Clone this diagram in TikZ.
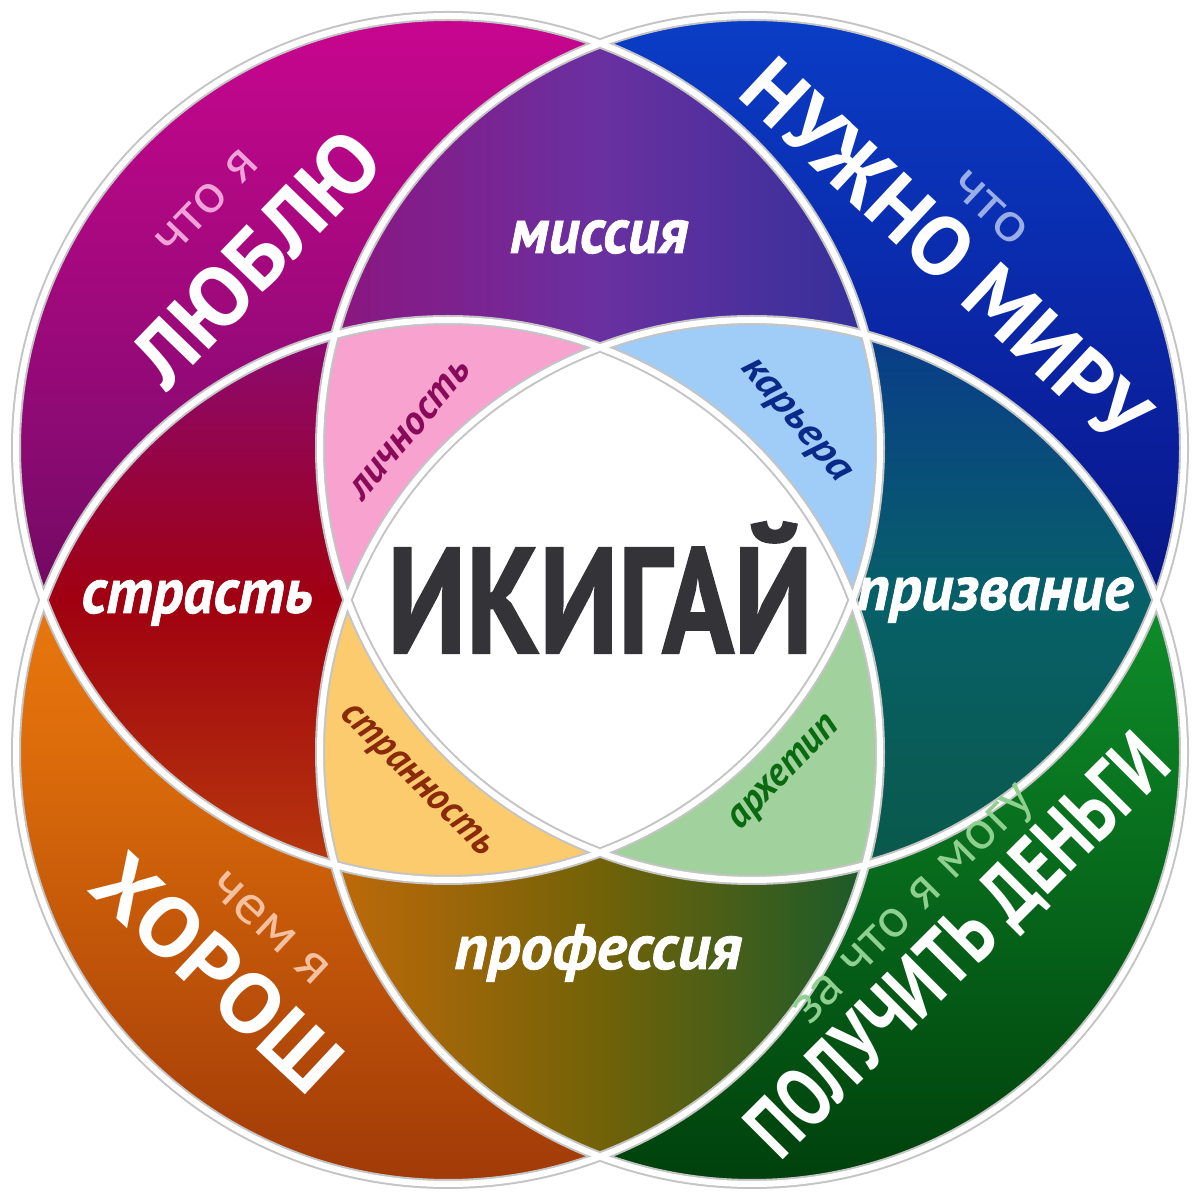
\documentclass[tikz,border=0pt]{standalone}
\usepackage{fontspec}
\setmainfont{PT Sans}
\usepackage{graphicx}
\definecolor{tlA}{HTML}{C8068F}
\definecolor{tlB}{HTML}{8A0A72}
\definecolor{tlC}{HTML}{440840}
\definecolor{trA}{HTML}{0A3DC6}
\definecolor{trB}{HTML}{0A1E9A}
\definecolor{trC}{HTML}{050A60}
\definecolor{blA}{HTML}{FF8C18}
\definecolor{blB}{HTML}{DC6C0A}
\definecolor{blC}{HTML}{A03A08}
\definecolor{brA}{HTML}{18B038}
\definecolor{brB}{HTML}{0A7A22}
\definecolor{brC}{HTML}{00400C}
\definecolor{miA}{HTML}{8E147E}
\definecolor{miB}{HTML}{6A30A0}
\definecolor{miC}{HTML}{30309A}
\definecolor{stA}{HTML}{8A0A7A}
\definecolor{stB}{HTML}{A00010}
\definecolor{stC}{HTML}{B83C0C}
\definecolor{pzA}{HTML}{0A3A8C}
\definecolor{pzB}{HTML}{076068}
\definecolor{pzC}{HTML}{0A5848}
\definecolor{prA}{HTML}{C46A0A}
\definecolor{prB}{HTML}{726208}
\definecolor{prC}{HTML}{145A2C}
\definecolor{liC}{HTML}{F7A2CF}
\definecolor{kaC}{HTML}{A0CDF8}
\definecolor{snC}{HTML}{FCCB6E}
\definecolor{arC}{HTML}{A1D29E}
\definecolor{liT}{HTML}{8A0A5A}
\definecolor{kaT}{HTML}{0A2A8A}
\definecolor{snT}{HTML}{8A2A08}
\definecolor{arT}{HTML}{0A6A10}
\definecolor{ikT}{HTML}{333338}
\definecolor{edge}{HTML}{C4C4C4}
\definecolor{tlS}{HTML}{F0A3D8}
\definecolor{trS}{HTML}{9AAEE6}
\definecolor{blS}{HTML}{F5C0A0}
\definecolor{brS}{HTML}{8FCF8F}
\begin{document}
\begin{tikzpicture}[x=1pt,y=1pt,
  biglbl/.style={font=\fontsize{84}{84}\selectfont\bfseries, text=white, inner sep=0pt},
  smalllbl/.style={font=\fontsize{54}{54}\selectfont, inner sep=0pt},
  pairlbl/.style={font=\fontsize{64}{64}\selectfont\bfseries\itshape\addfontfeature{FakeBold=1.2}, text=white, inner sep=0pt, anchor=base},
  triplbl/.style={font=\fontsize{40}{40}\selectfont\bfseries\itshape, inner sep=0pt},
  ring/.style={line width=#1}]
\useasboundingbox (0,0) rectangle (1200,1200);
\fill[white] (0,0) rectangle (1200,1200);
\coordinate (TL) at (448,752);
\coordinate (TR) at (752,752);
\coordinate (BL) at (448,448);
\coordinate (BR) at (752,448);
\def\R{432pt}
% single circles
\shade[top color=tlA, bottom color=tlC, middle color=tlB] (TL) circle[radius=\R];
\shade[top color=trA, bottom color=trC, middle color=trB] (TR) circle[radius=\R];
\shade[top color=blA, bottom color=blC, middle color=blB] (BL) circle[radius=\R];
\shade[top color=brA, bottom color=brC, middle color=brB] (BR) circle[radius=\R];
% pairs
\begin{scope}
  \clip (TL) circle[radius=\R]; \clip (TR) circle[radius=\R];
  \shade[left color=miA, right color=miC, middle color=miB] (315,700) rectangle (885,1165);
\end{scope}
\begin{scope}
  \clip (TL) circle[radius=\R]; \clip (BL) circle[radius=\R];
  \shade[top color=stA, bottom color=stC, middle color=stB] (35,315) rectangle (500,885);
\end{scope}
\begin{scope}
  \clip (TR) circle[radius=\R]; \clip (BR) circle[radius=\R];
  \shade[top color=pzA, bottom color=pzC, middle color=pzB] (700,315) rectangle (1165,885);
\end{scope}
\begin{scope}
  \clip (BL) circle[radius=\R]; \clip (BR) circle[radius=\R];
  \shade[left color=prA, right color=prC, middle color=prB] (315,35) rectangle (885,500);
\end{scope}
% triples
\begin{scope}
  \clip (TL) circle[radius=\R]; \clip (TR) circle[radius=\R]; \clip (BL) circle[radius=\R];
  \fill[liC] (0,0) rectangle (1200,1200);
\end{scope}
\begin{scope}
  \clip (TL) circle[radius=\R]; \clip (TR) circle[radius=\R]; \clip (BR) circle[radius=\R];
  \fill[kaC] (0,0) rectangle (1200,1200);
\end{scope}
\begin{scope}
  \clip (TL) circle[radius=\R]; \clip (BL) circle[radius=\R]; \clip (BR) circle[radius=\R];
  \fill[snC] (0,0) rectangle (1200,1200);
\end{scope}
\begin{scope}
  \clip (TR) circle[radius=\R]; \clip (BL) circle[radius=\R]; \clip (BR) circle[radius=\R];
  \fill[arC] (0,0) rectangle (1200,1200);
\end{scope}
% centre
\begin{scope}
  \clip (TL) circle[radius=\R]; \clip (TR) circle[radius=\R];
  \clip (BL) circle[radius=\R]; \clip (BR) circle[radius=\R];
  \fill[white] (0,0) rectangle (1200,1200);
\end{scope}
% rings
\foreach \c in {TL,TR,BL,BR} \draw[edge, ring=10pt] (\c) circle[radius=\R];
\foreach \c in {TL,TR,BL,BR} \draw[white, ring=6pt] (\c) circle[radius=\R];
% circle labels
\node[biglbl, rotate=46] (lyublyu) at (256,942) {\resizebox{317pt}{\height}{ЛЮБЛЮ}};
\node[smalllbl, text=tlS, rotate=46] (chtoya1) at (207,998) {\resizebox{127pt}{\height}{что я}};
\node[biglbl, rotate=-43] (nuzhno) at (946,949) {\resizebox{520pt}{\height}{НУЖНО МИРУ}};
\node[smalllbl, text=trS, rotate=-43] (chto2) at (990,992) {\resizebox{89pt}{\height}{что}};
\node[biglbl, rotate=-43] (horosh) at (218,227) {\resizebox{305pt}{\height}{ХОРОШ}};
\node[smalllbl, text=blS, rotate=-43] (chemya) at (270,272) {\resizebox{146pt}{\height}{чем я}};
\node[biglbl, rotate=45] (poluchit) at (960,252) {\resizebox{557pt}{\height}{ПОЛУЧИТЬ ДЕНЬГИ}};
\node[smalllbl, text=brS, rotate=45] (zachto) at (916,292) {\resizebox{319pt}{\height}{за что я могу}};
% pair labels
\node[pairlbl] (missiya) at (599,947) {\resizebox{178pt}{\height}{миссия}};
\node[pairlbl] (strast) at (197,587) {\resizebox{231pt}{\height}{страсть}};
\node[pairlbl] (prizvanie) at (995,590) {\resizebox{276pt}{\height}{призвание}};
\node[pairlbl] (professiya) at (598,231) {\resizebox{287pt}{\height}{профессия}};
% triple labels
\node[triplbl, text=liT, rotate=50] (lichnost) at (410,770) {\resizebox{170pt}{\height}{личность}};
\node[triplbl, text=kaT, rotate=-50] (karera) at (794,778) {\resizebox{151pt}{\height}{карьера}};
\node[triplbl, text=snT, rotate=-45] (strannost) at (415,418) {\resizebox{201pt}{\height}{странность}};
\node[triplbl, text=arT, rotate=46] (arhetip) at (786,426) {\resizebox{144pt}{\height}{архетип}};
% centre
\node[font=\fontsize{150}{150}\selectfont\bfseries\addfontfeature{FakeBold=1.5}, text=ikT, inner sep=0pt, anchor=base] (ikigai) at (600,547) {\resizebox{425pt}{\height}{ИКИГАЙ}};
\end{tikzpicture}
\end{document}
